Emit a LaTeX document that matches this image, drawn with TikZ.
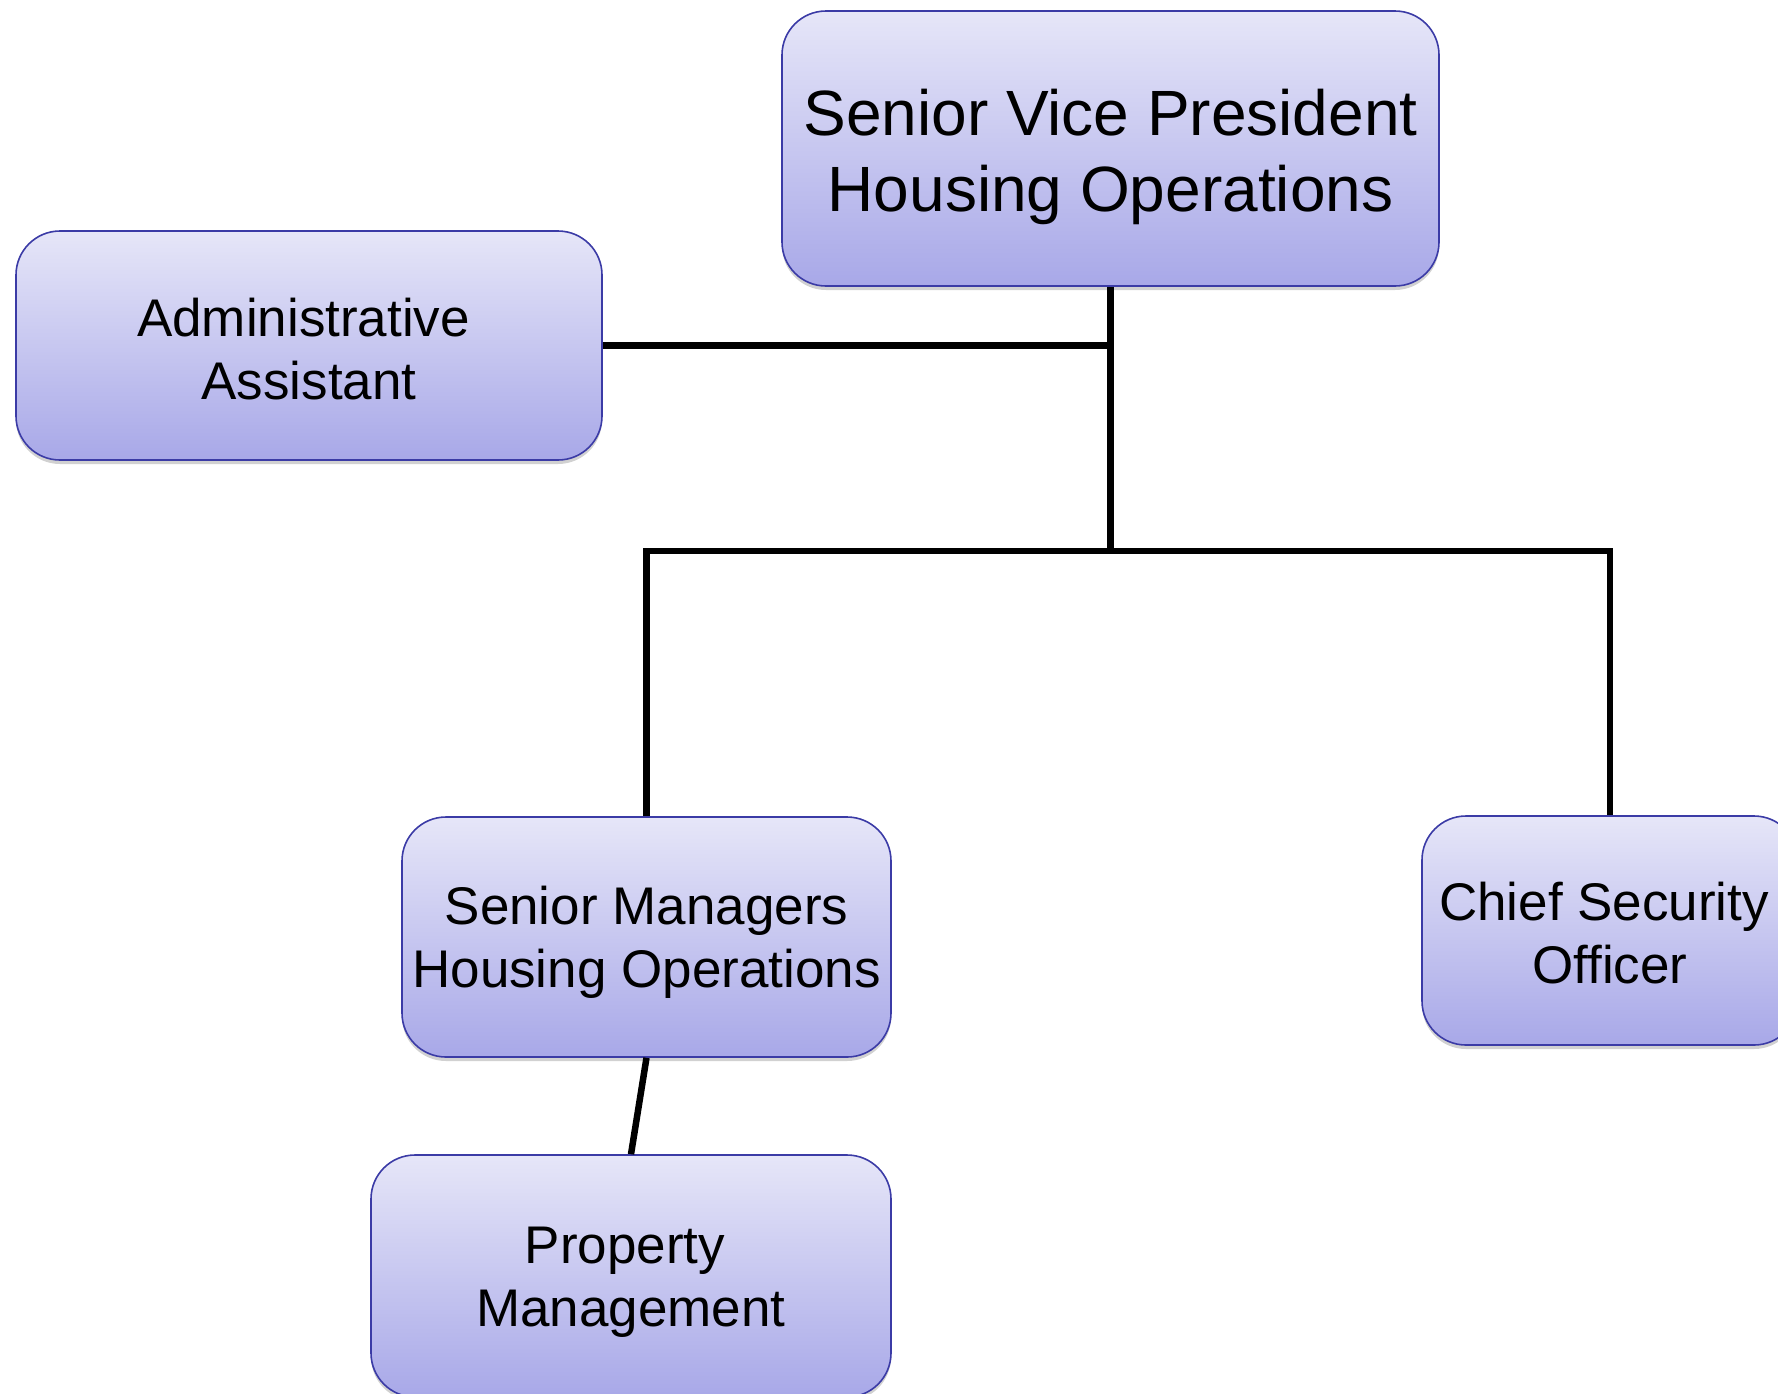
\documentclass[tikz,border=0pt]{standalone}
\usepackage{fontspec}
\setmainfont{Liberation Sans}
\usetikzlibrary{shadows}
\definecolor{boxtop}{HTML}{E6E6F8}
\definecolor{boxbot}{HTML}{A8A8E8}
\definecolor{boxline}{HTML}{3B3BA6}
\begin{document}
\begin{tikzpicture}[x=1pt,y=-1pt,
  orgbox/.style={draw=boxline, line width=1.6pt, rounded corners=44pt,
    top color=boxtop, bottom color=boxbot, inner sep=0pt,
    drop shadow={shadow xshift=0pt, shadow yshift=-4pt, opacity=0.3, fill=black!60}},
  boxtext/.style={inner sep=0pt, align=center, font=\fontsize{53}{63}\selectfont},
  link/.style={line width=6.5pt, line join=miter}]
\useasboundingbox (0,0) rectangle (1778,1393);
\node[orgbox, minimum width=657pt, minimum height=275pt] (svp) at (1110.5,148.5) {};
\node[orgbox, minimum width=586pt, minimum height=229pt] (admin) at (309,345.5) {};
\node[orgbox, minimum width=489pt, minimum height=240pt] (sm) at (646.5,937) {};
\node[orgbox, minimum width=376pt, minimum height=229pt] (cso) at (1610,930.5) {};
\node[orgbox, minimum width=520pt, minimum height=242pt] (pm) at (631,1276) {};
\node[boxtext, font=\fontsize{64}{76}\selectfont, yshift=-8pt] (svpT) at (svp.center) {Senior Vice President\\Housing Operations};
\node[boxtext, yshift=-3.5pt] (adminT) at (admin.center) {Administrative\hspace*{11pt}\\Assistant};
\node[boxtext, yshift=-5pt] (smT) at (sm.center) {Senior Managers\\Housing Operations};
\node[boxtext, yshift=-2.5pt] (csoT) at (cso.center) {Chief Security\hspace*{12pt}\\Officer};
\node[boxtext, yshift=-6pt] (pmT) at (pm.center) {Property\hspace*{12pt}\\Management};
\coordinate (j1) at (svp.south |- admin.east);
\coordinate (j2) at (1110.5,551);
\draw[link] (svp.south) -- (j2);
\draw[link] (admin.east) -- (j1);
\draw[link] (sm.north) |- (j2) -| (cso.north);
\draw[link] (sm.south) -- (pm.north);
\end{tikzpicture}
\end{document}
